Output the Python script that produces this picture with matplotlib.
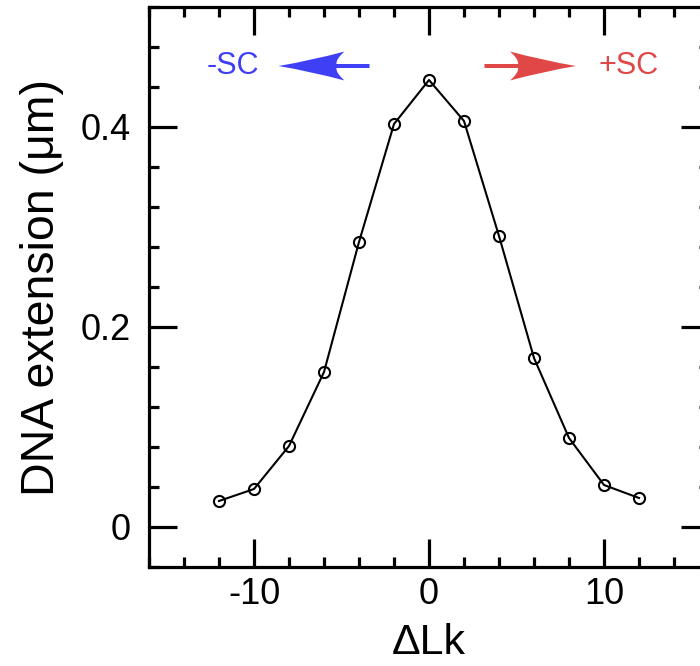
import matplotlib
matplotlib.use("Agg")
import matplotlib.pyplot as plt
from matplotlib.ticker import MultipleLocator, FixedLocator, FixedFormatter
from matplotlib.path import Path
from matplotlib.patches import PathPatch
from matplotlib.transforms import IdentityTransform

plt.rcParams['font.family'] = ['Liberation Sans', 'DejaVu Sans']

dLk = [-12, -10, -8, -6, -4, -2, 0, 2, 4, 6, 8, 10, 12]
ext = [0.026, 0.038, 0.081, 0.155, 0.285, 0.403, 0.447, 0.406, 0.291, 0.169, 0.089, 0.042, 0.029]

xticks = [-10, 0, 10]
xticklabels = ["-10", "0", "10"]
yticks = [0, 0.2, 0.4]
yticklabels = ["0", "0.2", "0.4"]

fig = plt.figure(figsize=(7.0, 6.66), dpi=100)
ax = fig.add_axes([149/700, 1 - 567/666, 560/700, 560/666])

ax.plot(dLk, ext, color='black', lw=1.5, marker='o', ms=8, mfc='none', mec='black', mew=1.5)

ax.set_xlim(-16, 16)
ax.set_ylim(-0.04, 0.52)
ax.xaxis.set_major_locator(FixedLocator(xticks))
ax.xaxis.set_major_formatter(FixedFormatter(xticklabels))
ax.xaxis.set_minor_locator(MultipleLocator(2))
ax.yaxis.set_major_locator(FixedLocator(yticks))
ax.yaxis.set_major_formatter(FixedFormatter(yticklabels))
ax.yaxis.set_minor_locator(MultipleLocator(0.04))

for s in ax.spines.values():
    s.set_linewidth(2.3)
ax.tick_params(which='both', direction='in', top=True, right=True, width=2.3)
ax.tick_params(which='major', length=20, labelsize=26)
ax.tick_params(axis='x', which='major', pad=7)
ax.tick_params(axis='y', which='major', pad=13)
ax.tick_params(which='minor', length=7.5)

ax.set_xlabel("ΔLk", fontsize=31, labelpad=8)
ax.set_ylabel("DNA extension (μm)", fontsize=33.5, labelpad=12)

blue = '#3f3ff5'
red = '#e04848'


def fancy_arrow(x_tail, x_tip, y, color):
    """Arrow with a swept (concave-backed) head, sized in pixels."""
    (px_tail, py), = ax.transData.transform([(x_tail, y)])
    (px_tip, _), = ax.transData.transform([(x_tip, y)])
    d = 1.0 if px_tip > px_tail else -1.0
    S = abs(px_tip - px_tail)
    L, H, w = 66.0, 14.5, 2.0
    local = [
        ((0, 0), Path.MOVETO),
        ((-L * 0.5, H * 0.38), Path.CURVE3), ((-L, H), Path.CURVE3),
        ((-L + 9, H * 0.45), Path.CURVE3), ((-L + 8, w), Path.CURVE3),
        ((-S, w), Path.LINETO),
        ((-S, -w), Path.LINETO),
        ((-L + 8, -w), Path.LINETO),
        ((-L + 9, -H * 0.45), Path.CURVE3), ((-L, -H), Path.CURVE3),
        ((-L * 0.5, -H * 0.38), Path.CURVE3), ((0, 0), Path.CURVE3),
        ((0, 0), Path.CLOSEPOLY),
    ]
    verts = [(px_tip + d * vx, py + vy) for (vx, vy), _ in local]
    codes = [c for _, c in local]
    fig.add_artist(PathPatch(Path(verts, codes), facecolor=color,
                             edgecolor='none', transform=IdentityTransform()))


fancy_arrow(-3.4, -8.6, 0.461, blue)
fancy_arrow(3.17, 8.4, 0.461, red)
ax.text(-11.2, 0.461, "-SC", color=blue, fontsize=22, ha='center', va='center')
ax.text(11.4, 0.461, "+SC", color=red, fontsize=22, ha='center', va='center')

fig.savefig("out.png", dpi=100)
